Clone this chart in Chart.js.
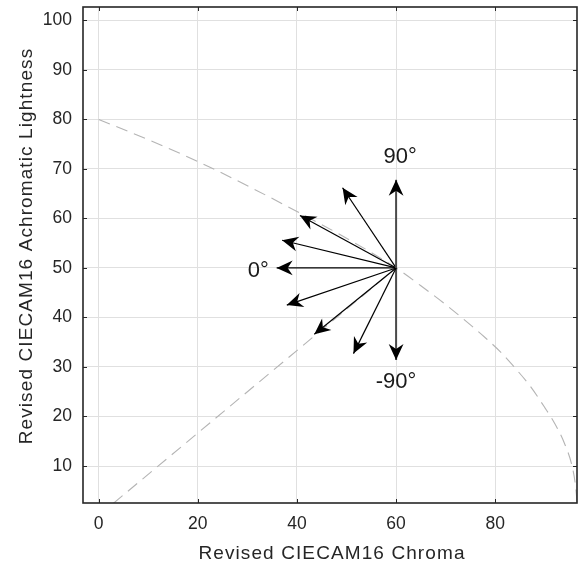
<!DOCTYPE html>
<html><head><meta charset="utf-8">
<script src="https://cdn.jsdelivr.net/npm/chart.js@4/dist/chart.umd.min.js"></script>
<style>html,body{margin:0;padding:0;background:#fff;overflow:hidden}</style>
</head><body>
<canvas id="c" width="578" height="567"></canvas>
<script>
// ---- data ----
const xTicks = [0, 20, 40, 60, 80];
const yTicks = [10, 20, 30, 40, 50, 60, 70, 80, 90, 100];
const xTitle = 'Revised CIECAM16 Chroma';
const yTitle = 'Revised CIECAM16 Achromatic Lightness';
// upper dashed boundary
const upperC = [0, 10, 20, 30, 40, 50, 60, 65, 70, 75, 78, 81, 84, 87, 90, 92, 94, 95.5, 96.2, 96.5, 96.6];
const upperL = [80, 75.9, 71.5, 66.6, 61.4, 56, 50, 46.4, 42.6, 38.5, 35.9, 33.1, 29.8, 26.2, 21.8, 18.6, 14.5, 10, 6, 2.5, 0];
// lower dashed boundary
const lowerC = [0, 60];
const lowerL = [0, 50];
// arrows
const originC = 60, originL = 50;
const arrowAngles = [90, 67.5, 45, 22.5, 0, -22.5, -45, -67.5, -90];
const tipC = [60, 49.2, 40.6, 37.0, 35.9, 37.95, 43.5, 51.4, 60];
const tipL = [67.8, 66.2, 60.6, 55.6, 50, 42.5, 36.6, 32.7, 31.4];
// angle labels
const angleLabels = ['90°', '0°', '-90°'];
const labelC = [60.8, 32.2, 60];
const labelL = [71.2, 48.2, 25.8];

const FONT = '"Liberation Sans", Arial, Helvetica, sans-serif';
const AX = '#262626';

const datasets = [];
arrowAngles.forEach((a, i) => {
  const vertical = Math.abs(a) === 90;
  datasets.push({
    label: 'arrow ' + a,
    data: [{x: originC, y: originL}, {x: tipC[i], y: tipL[i]}],
    showLine: true, pointRadius: 0,
    borderColor: vertical ? '#4a4a4a' : '#000',
    borderWidth: vertical ? 2 : 1.2,
    fill: false
  });
});
datasets.push({
  label: 'upper',
  data: upperC.map((c, i) => ({x: c, y: upperL[i]})),
  showLine: true, pointRadius: 0, borderColor: '#b4b4b4', borderWidth: 1.1,
  borderDash: [12, 7], cubicInterpolationMode: 'monotone', fill: false
});
datasets.push({
  label: 'lower',
  data: lowerC.map((c, i) => ({x: c, y: lowerL[i]})),
  showLine: true, pointRadius: 0, borderColor: '#b4b4b4', borderWidth: 1.1,
  borderDash: [12, 7], fill: false
});

const deco = {
  id: 'deco',
  afterDatasetsDraw(chart) {
    const ctx = chart.ctx, xs = chart.scales.x, ys = chart.scales.y;
    const ox = xs.getPixelForValue(originC), oy = ys.getPixelForValue(originL);
    ctx.save();
    ctx.fillStyle = '#000';
    arrowAngles.forEach((a, i) => {
      const tx = xs.getPixelForValue(tipC[i]), ty = ys.getPixelForValue(tipL[i]);
      const ang = Math.atan2(ty - oy, tx - ox);
      const L = 16, W = 7.4, N = 11;
      ctx.save();
      ctx.translate(tx, ty); ctx.rotate(ang);
      ctx.beginPath();
      ctx.moveTo(0, 0); ctx.lineTo(-L, -W); ctx.lineTo(-N, 0); ctx.lineTo(-L, W);
      ctx.closePath(); ctx.fill();
      ctx.restore();
    });
    ctx.fillStyle = '#1a1a1a';
    ctx.font = '22px ' + FONT;
    ctx.textAlign = 'center'; ctx.textBaseline = 'alphabetic';
    angleLabels.forEach((t, i) => {
      ctx.fillText(t, xs.getPixelForValue(labelC[i]), ys.getPixelForValue(labelL[i]));
    });
    ctx.restore();
  },
  afterDraw(chart) {
    const ctx = chart.ctx, a = chart.chartArea, xs = chart.scales.x, ys = chart.scales.y;
    ctx.save();
    ctx.strokeStyle = AX; ctx.lineWidth = 1;
    ctx.beginPath();
    xTicks.forEach(v => {
      const p = Math.round(xs.getPixelForValue(v)) + 0.5;
      ctx.moveTo(p, a.bottom); ctx.lineTo(p, a.bottom - 4);
      ctx.moveTo(p, a.top); ctx.lineTo(p, a.top + 4);
    });
    yTicks.forEach(v => {
      const p = Math.round(ys.getPixelForValue(v)) + 0.5;
      ctx.moveTo(a.left, p); ctx.lineTo(a.left + 4, p);
      ctx.moveTo(a.right, p); ctx.lineTo(a.right - 4, p);
    });
    ctx.stroke();
    ctx.lineWidth = 1.6;
    ctx.strokeRect(a.left, a.top, a.right - a.left, a.bottom - a.top);
    // axis titles
    ctx.fillStyle = AX;
    ctx.font = '19px ' + FONT;
    try { ctx.letterSpacing = '1.1px'; } catch (e) {}
    ctx.textAlign = 'center'; ctx.textBaseline = 'alphabetic';
    ctx.fillText(xTitle, (a.left + a.right) / 2 + 2, 558.5);
    ctx.save();
    ctx.translate(31.5, 246);
    ctx.rotate(-Math.PI / 2);
    ctx.fillText(yTitle, 0, 0);
    ctx.restore();
    ctx.restore();
  }
};

function zeroPad(s) { s.paddingTop = 0; s.paddingBottom = 0; s.paddingLeft = 0; s.paddingRight = 0; }

new Chart(document.getElementById('c'), {
  type: 'scatter',
  data: { datasets },
  options: {
    responsive: false, animation: false, devicePixelRatio: 1,
    layout: { padding: { top: 7, right: 1, left: 0, bottom: 0 } },
    plugins: { legend: { display: false }, tooltip: { enabled: false } },
    scales: {
      x: {
        type: 'linear', min: -3.17, max: 96.5,
        afterBuildTicks: s => { s.ticks = xTicks.map(v => ({value: v})); },
        afterFit: s => { s.height = 64; zeroPad(s); },
        ticks: { color: AX, font: { family: FONT, size: 17.5 }, padding: 11, includeBounds: false },
        grid: { color: '#e0e0e0', lineWidth: 1, drawTicks: false },
        border: { display: false }
      },
      y: {
        type: 'linear', min: 2.53, max: 102.7,
        afterBuildTicks: s => { s.ticks = yTicks.map(v => ({value: v})); },
        afterFit: s => { s.width = 83; zeroPad(s); },
        ticks: { color: AX, font: { family: FONT, size: 17.5 }, padding: 11, includeBounds: false },
        grid: { color: '#e0e0e0', lineWidth: 1, drawTicks: false },
        border: { display: false }
      }
    }
  },
  plugins: [deco]
});
</script>
</body></html>
